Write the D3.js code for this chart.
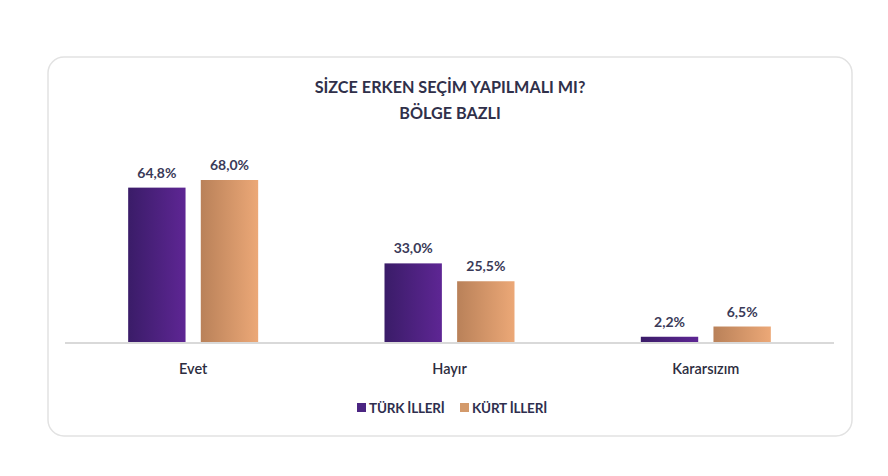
<!DOCTYPE html>
<html><head><meta charset="utf-8">
<script src="https://cdn.jsdelivr.net/npm/d3@7/dist/d3.min.js"></script>
<style>html,body{margin:0;padding:0;background:#fff;}svg{display:block;}</style>
</head><body>
<svg id="c" width="888" height="476"></svg>
<script>
const categories = ["Evet", "Hayır", "Kararsızım"];
const seriesNames = ["TÜRK İLLERİ", "KÜRT İLLERİ"];
const turkValues = [64.8, 33.0, 2.2];
const kurtValues = [68.0, 25.5, 6.5];
const titleLines = ["SİZCE ERKEN SEÇİM YAPILMALI MI?", "BÖLGE BAZLI"];

const svg = d3.select("#c");
const font = "Lato, 'Open Sans', sans-serif";
const defs = svg.append("defs");
const grads = [
  {id: "gP", a: "#3a1c68", b: "#5e2694"},
  {id: "gO", a: "#b98159", b: "#eca877"}
];
grads.forEach(g => {
  const lg = defs.append("linearGradient").attr("id", g.id).attr("x1", "0").attr("x2", "1").attr("y1", "0").attr("y2", "0");
  lg.append("stop").attr("offset", "0").attr("stop-color", g.a);
  lg.append("stop").attr("offset", "1").attr("stop-color", g.b);
});
const fills = ["url(#gP)", "url(#gO)"];
const legendColors = ["#4b2582", "#d39a6b"];

// card
svg.append("rect").attr("x", 48).attr("y", 57).attr("width", 804).attr("height", 379)
  .attr("rx", 16).attr("fill", "#fff").attr("stroke", "#e2e2e2").attr("stroke-width", 1.5);

// title
svg.append("g").selectAll("text").data(titleLines).join("text")
  .attr("x", 450).attr("y", (d, i) => 93 + i * 26)
  .attr("text-anchor", "middle").attr("font-family", font).attr("font-weight", 700)
  .attr("font-size", 16.2).attr("fill", "#30304a").text(d => d);

const baseY = 342;
const y = d3.scaleLinear().domain([0, 68]).range([baseY, 180]);
const x0 = d3.scaleBand().domain(categories).range([65, 834]).padding(0);
const bw = x0.bandwidth();
const x1 = d3.scaleBand().domain(seriesNames).range([bw / 2 - 65, bw / 2 + 65]).paddingInner(0.21).paddingOuter(0);

const data = categories.map((c, i) => ({cat: c, vals: [turkValues[i], kurtValues[i]]}));

const groups = svg.append("g").selectAll("g").data(data).join("g")
  .attr("transform", d => `translate(${x0(d.cat)},0)`);

groups.selectAll("rect").data(d => d.vals.map((v, j) => ({v, s: seriesNames[j], j}))).join("rect")
  .attr("x", d => x1(d.s)).attr("width", x1.bandwidth())
  .attr("y", d => y(d.v)).attr("height", d => baseY - y(d.v))
  .attr("fill", d => fills[d.j]);

groups.selectAll("text.val").data(d => d.vals.map((v, j) => ({v, s: seriesNames[j], j}))).join("text")
  .attr("class", "val")
  .attr("x", d => x1(d.s) + x1.bandwidth() / 2).attr("y", d => y(d.v) - 10)
  .attr("text-anchor", "middle").attr("font-family", font).attr("font-weight", 700)
  .attr("font-size", 14).attr("fill", "#3a3a58")
  .text(d => d.v.toFixed(1).replace(".", ",") + "%");

// baseline
svg.append("line").attr("x1", 65).attr("x2", 834).attr("y1", baseY + 1).attr("y2", baseY + 1)
  .attr("stroke", "#d9d9d9").attr("stroke-width", 2);

// category labels
const xAxis = d3.axisBottom(x0).tickSize(0).tickPadding(0);
const ax = svg.append("g").attr("transform", `translate(0,${baseY + 22})`).call(xAxis);
ax.select(".domain").remove();
ax.selectAll("text").attr("font-family", font).attr("font-size", 14.5).attr("font-weight", 600)
  .attr("fill", "#2d2d40").attr("dy", "0.71em");

// legend
const legendItems = [{x: 357}, {x: 460}];
const lg = svg.append("g").selectAll("g").data(seriesNames).join("g")
  .attr("transform", (d, i) => `translate(${legendItems[i].x},403)`);
lg.append("rect").attr("width", 9).attr("height", 9).attr("fill", (d, i) => legendColors[i]);
lg.append("text").attr("x", 12).attr("y", 10).attr("font-family", font).attr("font-weight", 700)
  .attr("font-size", 13.5).attr("fill", "#2e2e4e").attr("letter-spacing", "-0.2").text(d => d);
</script>
</body></html>
